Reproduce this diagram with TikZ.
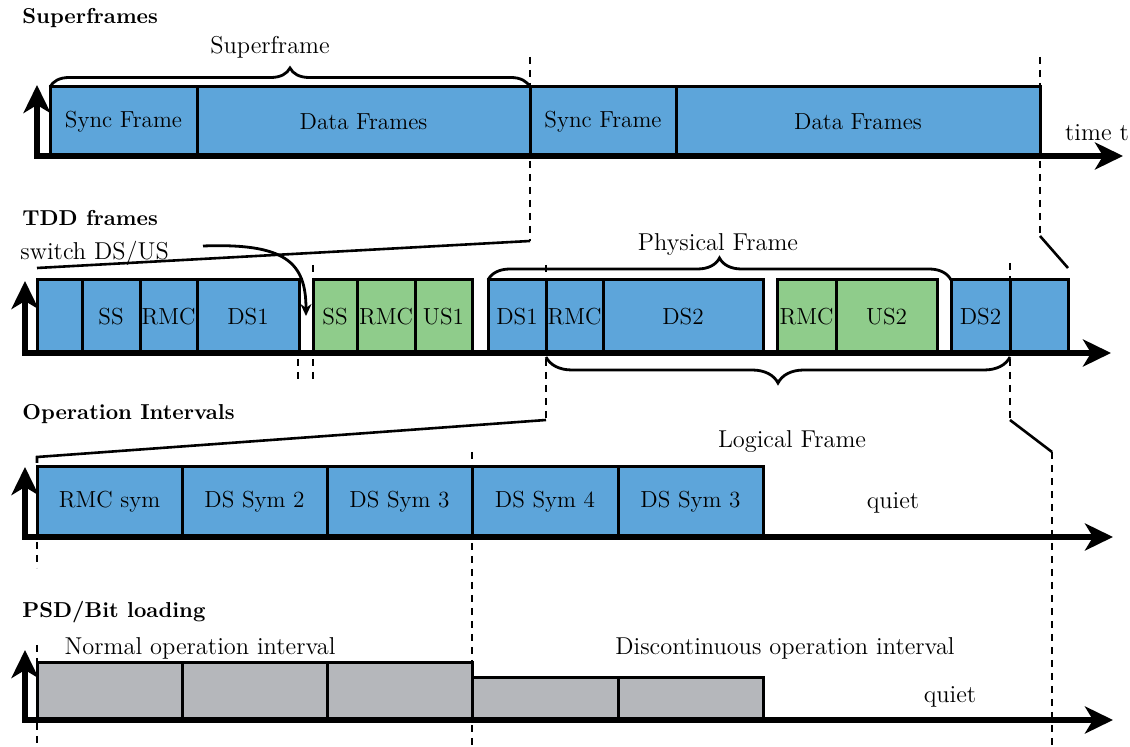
\documentclass[tikz,border=0pt]{standalone}
\usepackage{tikz}
\usetikzlibrary{arrows.meta,positioning,decorations.pathreplacing}

\definecolor{dsblue}{RGB}{93,165,218}
\definecolor{usgreen}{RGB}{143,204,139}
\definecolor{psdgray}{RGB}{181,183,187}

\tikzset{
	frm/.style={draw, line width=1.5pt, inner sep=0pt, outer sep=0pt, font=\fontsize{11.6}{13}\selectfont},
	dsfrm/.style={frm, fill=dsblue},
	usfrm/.style={frm, fill=usgreen},
	psdfrm/.style={frm, fill=psdgray},
	sfrow/.style={minimum height=34.5pt},
	tddrow/.style={minimum height=36.5pt},
	oprow/.style={minimum height=35pt},
	axes/.style={line width=3.2pt, {Stealth[length=14pt,width=13.5pt,inset=4pt]}-{Stealth[length=14pt,width=13.5pt,inset=4pt]}},
	cut/.style={line width=1.3pt, dash pattern=on 3.5pt off 3pt},
	zoomline/.style={line width=1.3pt},
	brc/.style={decorate, decoration={brace, amplitude=#1}, line width=1.4pt},
	swarrow/.style={line width=1.4pt, -{Stealth[length=6pt,width=5.5pt]}},
	ttl/.style={anchor=west, inner sep=0pt, font=\fontsize{10.8}{12}\selectfont\bfseries},
	txt/.style={inner sep=0pt, font=\fontsize{12.2}{14}\selectfont}
}

\begin{document}
\begin{tikzpicture}[x=0.5pt, y=-0.5pt]
	\useasboundingbox (0,0) rectangle (1130,747);

	% Superframes
	\node[ttl] (sfttl) at (22,18) {Superframes};
	\node[dsfrm, sfrow, minimum width=73.5pt, anchor=south west] (sync1) at (50,156) {Sync Frame};
	\node[dsfrm, sfrow, minimum width=166.5pt, right=0pt of sync1] (data1) {Data Frames};
	\node[dsfrm, sfrow, minimum width=73pt, right=0pt of data1] (sync2) {Sync Frame};
	\node[dsfrm, sfrow, minimum width=182pt, right=0pt of sync2] (data2) {Data Frames};
	\draw[axes] (37,85) -- (37,156) -- (1123,156);
	\draw[brc=9.5pt] (sync1.north west) -- (data1.north east);
	\node[txt] (sflbl) at (270,47) {Superframe};
	\node[txt] (timelbl) at (1097,133) {time t};

	% TDD frames
	\node[ttl] (tddttl) at (22,218) {TDD frames};
	\node[txt, anchor=west] (swlbl) at (20,253) {switch DS/US};
	\node[dsfrm, tddrow, minimum width=22.5pt, anchor=south west] (tdd0) at (37,353) {};
	\node[dsfrm, tddrow, minimum width=29pt, right=0pt of tdd0] (ssd) {SS};
	\node[dsfrm, tddrow, minimum width=28.5pt, right=0pt of ssd] (rmcd1) {RMC};
	\node[dsfrm, tddrow, minimum width=51pt, right=0pt of rmcd1] (ds1a) {DS1};
	\node[usfrm, tddrow, minimum width=22pt, anchor=south west] (ssu) at (313,353) {SS};
	\node[usfrm, tddrow, minimum width=29pt, right=0pt of ssu] (rmcu1) {RMC};
	\node[usfrm, tddrow, minimum width=28.5pt, right=0pt of rmcu1] (us1) {US1};
	\node[dsfrm, tddrow, minimum width=29pt, anchor=south west] (ds1b) at (488,353) {DS1};
	\node[dsfrm, tddrow, minimum width=28.5pt, right=0pt of ds1b] (rmcd2) {RMC};
	\node[dsfrm, tddrow, minimum width=80pt, right=0pt of rmcd2] (ds2a) {DS2};
	\node[usfrm, tddrow, minimum width=29.5pt, anchor=south west] (rmcu2) at (777,353) {RMC};
	\node[usfrm, tddrow, minimum width=50.5pt, right=0pt of rmcu2] (us2) {US2};
	\node[dsfrm, tddrow, minimum width=29.5pt, anchor=south west] (ds2b) at (951,353) {DS2};
	\node[dsfrm, tddrow, minimum width=29pt, right=0pt of ds2b] (tdd1) {};
	\draw[axes] (25,281) -- (25,353) -- (1111,353);
	\draw[brc=11pt] (ds1b.north west) -- (ds2b.north west);
	\node[txt] (phylbl) at (718,245) {Physical Frame};
	\draw[decorate, decoration={brace, amplitude=13pt, raise=2pt}, line width=1.4pt] (tdd1.south west) -- (rmcd2.south west);
	\coordinate (swfrom) at (203,246);
	\coordinate (swto) at (306,316);
	\draw[swarrow] (swfrom) .. controls (285,243) and (306,262) .. (swto);

	% Operation Intervals
	\node[ttl] (opttl) at (22,414) {Operation Intervals};
	\node[dsfrm, oprow, minimum width=72.5pt, anchor=south west] (rmcsym) at (37,537) {RMC sym};
	\node[dsfrm, oprow, minimum width=72.5pt, right=0pt of rmcsym] (dsym2) {DS Sym 2};
	\node[dsfrm, oprow, minimum width=72.5pt, right=0pt of dsym2] (dsym3) {DS Sym 3};
	\node[dsfrm, oprow, minimum width=73pt, right=0pt of dsym3] (dsym4) {DS Sym 4};
	\node[dsfrm, oprow, minimum width=72.5pt, right=0pt of dsym4] (dsym3b) {DS Sym 3};
	\draw[axes] (25,467) -- (25,537) -- (1113,537);
	\node[txt] (loglbl) at (792,442) {Logical Frame};
	\node[txt] (quiet1) at (893,503) {quiet};

	% PSD/Bit loading
	\node[ttl] (psdttl) at (22,612) {PSD/Bit loading};
	\node[psdfrm, minimum width=72.5pt, minimum height=28.5pt, anchor=south west] (psd1) at (37,720) {};
	\node[psdfrm, minimum width=72.5pt, minimum height=28.5pt, anchor=south west] (psd2) at (psd1.south east) {};
	\node[psdfrm, minimum width=72.5pt, minimum height=28.5pt, anchor=south west] (psd3) at (psd2.south east) {};
	\node[psdfrm, minimum width=73pt, minimum height=21pt, anchor=south west] (psd4) at (psd3.south east) {};
	\node[psdfrm, minimum width=72.5pt, minimum height=21pt, anchor=south west] (psd5) at (psd4.south east) {};
	\draw[axes] (25,650) -- (25,720) -- (1113,720);
	\node[txt] (normlbl) at (200,648) {Normal operation interval};
	\node[txt] (disclbl) at (785,648) {Discontinuous operation interval};
	\node[txt] (quiet2) at (950,697) {quiet};

	% zoom lines
	\coordinate (sfA) at (530,57);
	\coordinate (sfAk) at (530,241);
	\coordinate (tddL) at (37,268);
	\coordinate (sfB) at (1040,57);
	\coordinate (sfBk) at (1040,236);
	\coordinate (tddR) at (1068,268);
	\draw[cut] (sfA) -- (sfAk);
	\draw[zoomline] (sfAk) -- (tddL);
	\draw[cut] (sfB) -- (sfBk);
	\draw[zoomline] (sfBk) -- (tddR);

	\draw[cut] (313,265) -- (313,281);
	\draw[cut] (298,359) -- (298,383);
	\draw[cut] (313,359) -- (313,383);

	\coordinate (tdA) at (546,420);
	\coordinate (opL) at (37,457);
	\coordinate (tdB) at (1010,420);
	\coordinate (opR) at (1052,452);
	\draw[cut] (546,265) -- (546,281);
	\draw[cut] (546,359) -- (tdA);
	\draw[zoomline] (tdA) -- (opL) -- (37,463);
	\draw[cut] (1010,263) -- (1010,281);
	\draw[cut] (1010,359) -- (tdB);
	\draw[zoomline] (tdB) -- (opR);
	\draw[cut] (opR) -- (1052,747);

	\draw[cut] (472,452) -- (472,747);
	\draw[cut] (37,542) -- (37,568);
	\draw[cut] (37,645) -- (37,747);

\end{tikzpicture}
\end{document}
